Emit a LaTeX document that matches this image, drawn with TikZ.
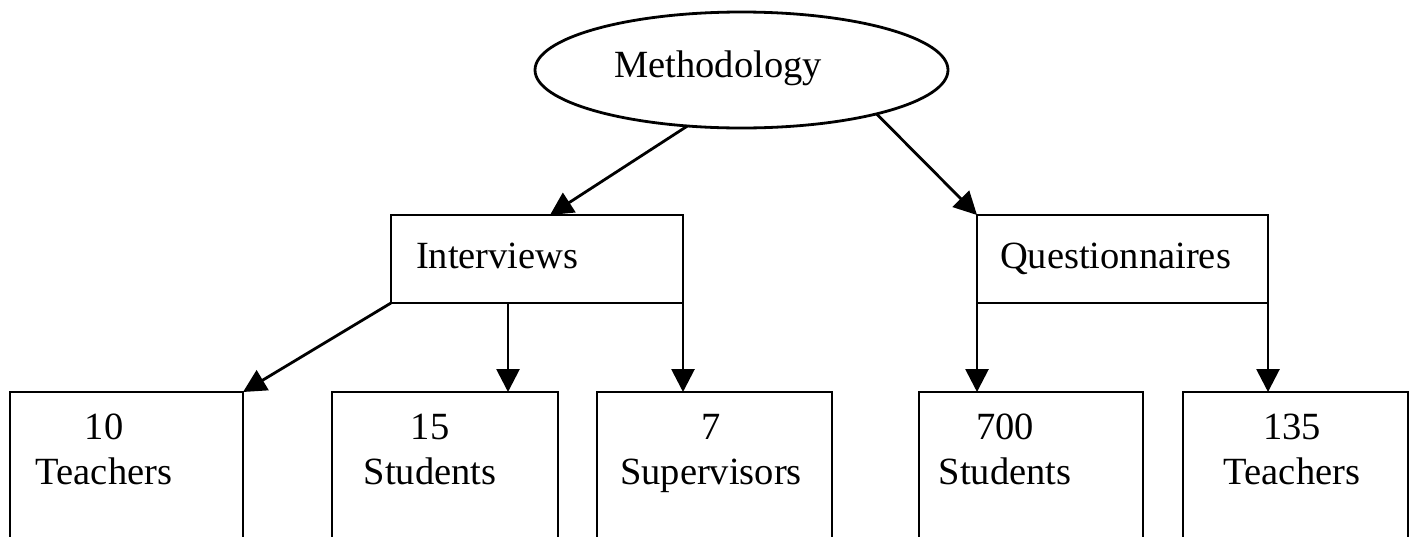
\documentclass[tikz,border=0pt]{standalone}
\usepackage{fontspec}
\setmainfont{Liberation Serif}
\usetikzlibrary{arrows.meta,shapes.geometric,calc}
\begin{document}
\begin{tikzpicture}[x=1pt,y=-1pt,
  ln/.style={line width=2.8pt, draw=black},
  boxst/.style={ln, rectangle, inner sep=0pt, outer sep=0pt},
  lbl/.style={font=\fontsize{38.5}{45}\selectfont, inner sep=0pt, outer sep=0pt, align=center},
  arr/.style={ln, -{Triangle[length=23pt,width=23pt]}}]
\useasboundingbox (0,0) rectangle (1415,536);
\fill[white] (0,0) rectangle (1415,536);
% top ellipse
\node[ln, ellipse, minimum width=413pt, minimum height=116pt, inner sep=0pt, outer sep=0pt] (m) at (741.5,70) {};
\node[lbl, anchor=base] (mt) at (718,77) {Methodology};
% middle boxes
\node[boxst, minimum width=292pt, minimum height=88pt] (iv) at (537,259) {};
\node[lbl, anchor=base west] (ivt) at (416,268) {Interviews};
\node[boxst, minimum width=291pt, minimum height=88pt] (q) at (1122.5,259) {};
\node[lbl, anchor=base west] (qt) at (1000,268) {Questionnaires};
% bottom boxes (run past the lower edge)
\node[boxst, minimum width=233pt, minimum height=228pt] (b1) at (126.5,506) {};
\node[boxst, minimum width=226pt, minimum height=228pt] (b2) at (445,506) {};
\node[boxst, minimum width=235pt, minimum height=228pt] (b3) at (714.5,506) {};
\node[boxst, minimum width=224pt, minimum height=228pt] (b4) at (1031,506) {};
\node[boxst, minimum width=225pt, minimum height=228pt] (b5) at (1295.5,506) {};
\node[lbl, anchor=north] (t1) at (104,414) {10\\Teachers};
\node[lbl, anchor=north] (t2) at (430,414) {15\\Students};
\node[lbl, anchor=north] (t3) at (711,414) {7\\Supervisors};
\node[lbl, anchor=north] (t4) at (1005,414) {700\\Students};
\node[lbl, anchor=north] (t5) at (1292,414) {135\\Teachers};
% connectors
\coordinate (ivin) at ($(iv.north)+(13,0)$);
\coordinate (s2) at ($(iv.south west)+(117,0)$);
\draw[arr] (m.226) -- (ivin);
\draw[arr] (m.342) -- (q.north west);
\draw[arr] (iv.south west) -- (b1.north east);
\draw[arr] (s2) -- (s2 |- b2.north);
\draw[arr] (iv.south east) -- (iv.south east |- b3.north);
\draw[arr] (q.south west) -- (q.south west |- b4.north);
\draw[arr] (q.south east) -- (q.south east |- b5.north);
\end{tikzpicture}
\end{document}
